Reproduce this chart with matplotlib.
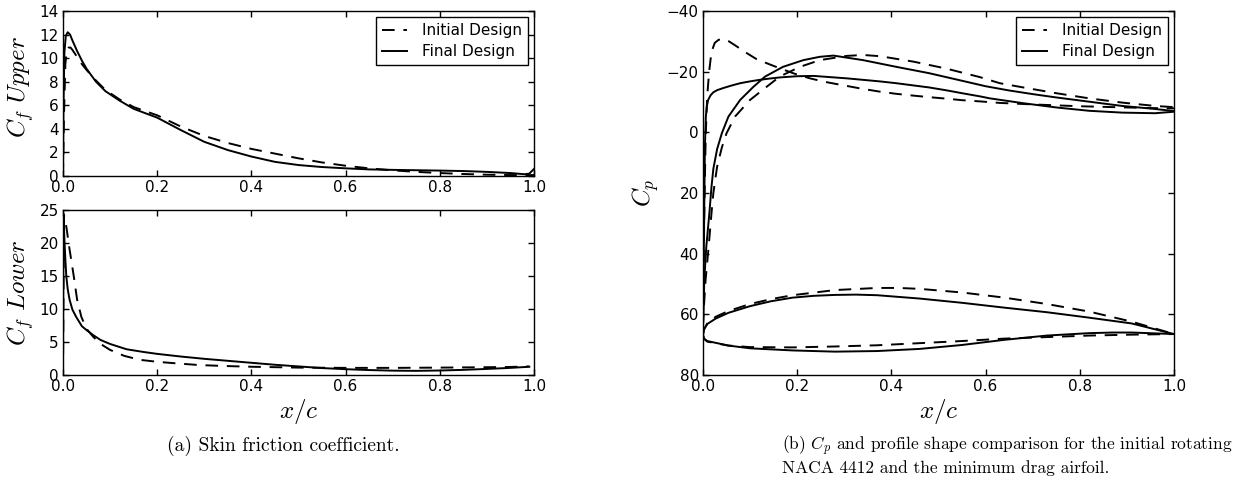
import matplotlib
matplotlib.use("Agg")
import matplotlib.pyplot as plt

plt.rcParams['mathtext.fontset'] = 'cm'
plt.rcParams['font.family'] = ['DejaVu Sans']

# ---------------- Data: skin friction, upper surface ----------------
cfu_init_x = [0, 0.002, 0.005, 0.008, 0.012, 0.016, 0.02, 0.03, 0.04, 0.05, 0.07, 0.09,
              0.12, 0.15, 0.2, 0.25, 0.3, 0.35, 0.4, 0.45, 0.5, 0.55, 0.6, 0.65, 0.7,
              0.75, 0.8, 0.85, 0.9, 0.95, 1.0]
cfu_init_y = [0, 5.0, 9.5, 10.6, 10.9, 10.9, 10.7, 10.1, 9.5, 9.0, 8.1, 7.3,
              6.5, 5.85, 5.15, 4.2, 3.4, 2.8, 2.3, 1.9, 1.5, 1.15, 0.87, 0.65, 0.48,
              0.35, 0.25, 0.17, 0.11, 0.08, 0.08]
cfu_final_x = [0, 0.001, 0.003, 0.006, 0.010, 0.015, 0.02, 0.03, 0.04, 0.05, 0.07, 0.09,
               0.12, 0.15, 0.2, 0.25, 0.3, 0.35, 0.4, 0.45, 0.5, 0.55, 0.6, 0.65, 0.7,
               0.75, 0.8, 0.85, 0.9, 0.95, 0.98, 0.99, 1.0]
cfu_final_y = [0, 6.0, 10.5, 11.9, 12.2, 12.0, 11.5, 10.6, 9.8, 9.1, 8.0, 7.2,
               6.4, 5.7, 4.95, 3.9, 2.9, 2.2, 1.65, 1.2, 0.93, 0.76, 0.65, 0.56, 0.52,
               0.49, 0.46, 0.42, 0.35, 0.25, 0.15, 0.2, 0.6]

# ---------------- Data: skin friction, lower surface ----------------
cfl_init_x = [0, 0.002, 0.007, 0.014, 0.023, 0.03, 0.039, 0.05, 0.064, 0.08, 0.1, 0.13,
              0.163, 0.2, 0.234, 0.29, 0.35, 0.4, 0.5, 0.6, 0.7, 0.8, 0.9, 0.95, 0.99]
cfl_init_y = [0, 24.3, 22.5, 19.0, 14.9, 11.4, 8.8, 7.0, 5.8, 4.7, 3.8, 2.9,
              2.3, 2.0, 1.8, 1.5, 1.35, 1.25, 1.12, 1.08, 1.08, 1.12, 1.18, 1.22, 1.3]
cfl_final_x = [0, 0.001, 0.003, 0.005, 0.007, 0.01, 0.014, 0.02, 0.028, 0.04, 0.05, 0.065,
               0.08, 0.1, 0.135, 0.17, 0.2, 0.25, 0.3, 0.35, 0.4, 0.45, 0.5, 0.55, 0.6,
               0.65, 0.7, 0.75, 0.8, 0.85, 0.9, 0.95, 0.99]
cfl_final_y = [0, 24.4, 20.5, 17.5, 15.0, 13.0, 11.4, 9.9, 8.8, 7.4, 6.8, 6.0,
               5.3, 4.7, 3.9, 3.5, 3.2, 2.8, 2.45, 2.15, 1.85, 1.55, 1.3, 1.05, 0.88,
               0.75, 0.66, 0.63, 0.68, 0.78, 0.92, 1.08, 1.25]

# ---------------- Data: pressure coefficient ----------------
cp_init_a_x = [0, 0.002, 0.004, 0.006, 0.009, 0.013, 0.018, 0.025, 0.033, 0.043, 0.055, 0.07,
               0.09, 0.114, 0.14, 0.163, 0.195, 0.227, 0.26, 0.305, 0.34, 0.376, 0.41,
               0.447, 0.48, 0.517, 0.55, 0.588, 0.63, 0.7, 0.75, 0.8, 0.85, 0.9, 0.95, 1.0]
cp_init_a_y = [64, 35, 15, 0, -12, -20, -26.5, -29.5, -30.5, -30.8, -30.0, -28.5,
               -26.4, -24.1, -22.5, -21.1, -19.3, -17.8, -16.6, -15.3, -14.3, -13.4, -12.7,
               -12.1, -11.6, -11.1, -10.6, -10.2, -9.7, -9.2, -8.9, -8.6, -8.4, -8.2, -8.0, -7.9]
cp_init_b_x = [0, 0.001, 0.0055, 0.012, 0.018, 0.022, 0.027, 0.03, 0.04, 0.05, 0.068, 0.1,
               0.135, 0.163, 0.206, 0.248, 0.305, 0.34, 0.376, 0.447, 0.517, 0.588, 0.63,
               0.68, 0.75, 0.82, 0.89, 0.96, 1.0]
cp_init_b_y = [64, 59.7, 48.7, 37.7, 26.7, 20.0, 14.5, 11.3, 5.0, 0.3, -5.2, -10.7,
               -15.0, -18.4, -21.6, -23.8, -25.2, -25.5, -25.1, -23.3, -21.0, -18.2, -16.2,
               -14.8, -12.9, -11.2, -9.8, -8.7, -8.3]
cp_final_a_x = [0, 0.002, 0.004, 0.006, 0.008, 0.011, 0.016, 0.022, 0.03, 0.043, 0.06, 0.079,
                0.1, 0.12, 0.14, 0.163, 0.2, 0.235, 0.27, 0.305, 0.34, 0.375, 0.41, 0.445,
                0.48, 0.515, 0.55, 0.59, 0.609, 0.68, 0.75, 0.82, 0.89, 0.96, 1.0]
cp_final_a_y = [64, 35, 5, -5, -8.5, -10.7, -12.2, -13.2, -13.9, -14.6, -15.4, -16.2,
                -16.8, -17.3, -17.7, -18.1, -18.5, -18.6, -18.2, -17.8, -17.3, -16.8, -16.2, -15.5,
                -14.8, -13.9, -12.9, -11.8, -11.2, -9.6, -8.2, -7.1, -6.5, -6.3, -6.8]
cp_final_b_x = [0, 0.001, 0.0027, 0.007, 0.0135, 0.018, 0.022, 0.03, 0.04, 0.054, 0.079, 0.107,
                0.132, 0.17, 0.213, 0.248, 0.277, 0.34, 0.41, 0.48, 0.55, 0.6, 0.65, 0.7,
                0.75, 0.82, 0.89, 0.96, 1.0]
cp_final_b_y = [64, 59.7, 48.7, 37.7, 26.7, 18.0, 12.0, 5.5, 0.3, -5.2, -10.7, -15.0,
                -18.4, -21.6, -23.8, -24.9, -25.3, -23.8, -21.6, -19.5, -17.0, -15.2, -13.8, -12.6,
                -11.5, -10.1, -8.7, -7.7, -7.0]

# ---------------- Data: airfoil profiles (scaled into Cp axes) ----------------
foil_init_up_x = [0, 0.002, 0.009, 0.027, 0.054, 0.1, 0.144, 0.19, 0.28, 0.37, 0.415, 0.46,
                  0.55, 0.64, 0.73, 0.82, 0.91, 1.0]
foil_init_up_y = [66.8, 65.0, 63.0, 60.8, 58.9, 56.6, 55.0, 53.7, 52.0, 51.3, 51.3, 51.6,
                  52.8, 54.5, 56.6, 59.1, 62.4, 66.5]
foil_init_lo_x = [0, 0.002, 0.009, 0.054, 0.1, 0.19, 0.28, 0.37, 0.46, 0.55, 0.64, 0.73,
                  0.82, 0.91, 1.0]
foil_init_lo_y = [66.8, 68.0, 69.0, 70.3, 70.8, 70.9, 70.6, 70.2, 69.5, 68.8, 68.0, 67.5,
                  67.0, 66.7, 66.5]
foil_final_up_x = [0, 0.002, 0.009, 0.027, 0.054, 0.1, 0.144, 0.19, 0.235, 0.28, 0.325, 0.37,
                   0.46, 0.55, 0.64, 0.73, 0.82, 0.91, 1.0]
foil_final_up_y = [66.8, 65.0, 63.2, 61.4, 59.5, 57.3, 55.7, 54.5, 53.9, 53.6, 53.5, 53.7,
                   54.8, 56.2, 57.8, 59.3, 61.1, 63.0, 66.5]
foil_final_lo_x = [0, 0.002, 0.009, 0.054, 0.1, 0.19, 0.28, 0.37, 0.46, 0.55, 0.64, 0.73,
                   0.82, 0.87, 0.91, 1.0]
foil_final_lo_y = [66.8, 68.0, 68.8, 70.3, 71.2, 71.9, 72.3, 72.1, 71.4, 70.1, 68.4, 67.0,
                   66.2, 66.0, 66.0, 66.5]

legend_labels = ["Initial Design", "Final Design"]
cf_xticks = [0.0, 0.2, 0.4, 0.6, 0.8, 1.0]
cfu_yticks = [0, 2, 4, 6, 8, 10, 12, 14]
cfl_yticks = [0, 5, 10, 15, 20, 25]
cp_yticks = [-40, -20, 0, 20, 40, 60, 80]

# ---------------- Figure ----------------
W, H = 1246, 484
fig = plt.figure(figsize=(W / 100, H / 100), dpi=100)
ax1 = fig.add_axes([63 / W, 1 - 176 / H, 471 / W, 165 / H])
ax2 = fig.add_axes([63 / W, 1 - 375 / H, 471 / W, 165 / H])
ax3 = fig.add_axes([703 / W, 1 - 375 / H, 471 / W, 364 / H])

dash = (0, (6.5, 4.5))
lw = 1.4

def style(ax):
    ax.tick_params(direction='in', top=True, right=True, length=4, width=1,
                   pad=3, labelsize=11)
    for s in ax.spines.values():
        s.set_linewidth(1.0)

# Upper Cf
ax1.plot(cfu_init_x, cfu_init_y, color='k', lw=lw, ls=dash, label=legend_labels[0])
ax1.plot(cfu_final_x, cfu_final_y, color='k', lw=lw, ls='-', label=legend_labels[1])
ax1.set_xlim(0, 1)
ax1.set_ylim(0, 14)
ax1.set_xticks(cf_xticks)
ax1.set_yticks(cfu_yticks)
ax1.set_ylabel(r'$C_f\ Upper$', fontsize=18)
ax1.yaxis.set_label_coords(-0.058, 0.54)

# Lower Cf
ax2.plot(cfl_init_x, cfl_init_y, color='k', lw=lw, ls=dash)
ax2.plot(cfl_final_x, cfl_final_y, color='k', lw=lw, ls='-')
ax2.set_xlim(0, 1)
ax2.set_ylim(0, 25)
ax2.set_xticks(cf_xticks)
ax2.set_yticks(cfl_yticks)
ax2.set_ylabel(r'$C_f\ Lower$', fontsize=18)
ax2.yaxis.set_label_coords(-0.058, 0.5)
ax2.set_xlabel(r'$x/c$', fontsize=18, labelpad=2)

# Cp + profiles
ax3.plot(cp_init_a_x, cp_init_a_y, color='k', lw=lw, ls=dash, label=legend_labels[0])
ax3.plot(cp_final_a_x, cp_final_a_y, color='k', lw=lw, ls='-', label=legend_labels[1])
ax3.plot(cp_init_b_x, cp_init_b_y, color='k', lw=lw, ls=dash)
ax3.plot(cp_final_b_x, cp_final_b_y, color='k', lw=lw, ls='-')
ax3.plot(foil_init_up_x, foil_init_up_y, color='k', lw=lw, ls=dash)
ax3.plot(foil_init_lo_x, foil_init_lo_y, color='k', lw=lw, ls=dash)
ax3.plot(foil_final_up_x, foil_final_up_y, color='k', lw=lw, ls='-')
ax3.plot(foil_final_lo_x, foil_final_lo_y, color='k', lw=lw, ls='-')
ax3.set_xlim(0, 1)
ax3.set_ylim(80, -40)
ax3.set_xticks(cf_xticks)
ax3.set_yticks(cp_yticks)
ax3.set_ylabel(r'$C_p$', fontsize=18)
ax3.set_xlabel(r'$x/c$', fontsize=18, labelpad=2)

for ax in (ax1, ax2, ax3):
    style(ax)

leg_kw = dict(loc='upper right', fontsize=11, frameon=True, fancybox=False,
              edgecolor='black', framealpha=1, handlelength=1.6, handletextpad=1.0,
              labelspacing=0.4, borderpad=0.4, borderaxespad=0.4)
for ax in (ax1, ax3):
    lg = ax.legend(**leg_kw)
    lg.get_frame().set_linewidth(1.0)

# Captions
fig.text(283 / W, 1 - 446 / H, '(a) Skin friction coefficient.', fontsize=14,
         family='cmr10', ha='center', va='center')
fig.text(782 / W, 1 - 446 / H,
         '(b) $C_p$ and profile shape comparison for the initial rotating',
         fontsize=12.5, family='cmr10', ha='left', va='center')
fig.text(782 / W, 1 - 468 / H, 'NACA 4412 and the minimum drag airfoil.',
         fontsize=12.5, family='cmr10', ha='left', va='center')

fig.savefig('out.png', dpi=100)
